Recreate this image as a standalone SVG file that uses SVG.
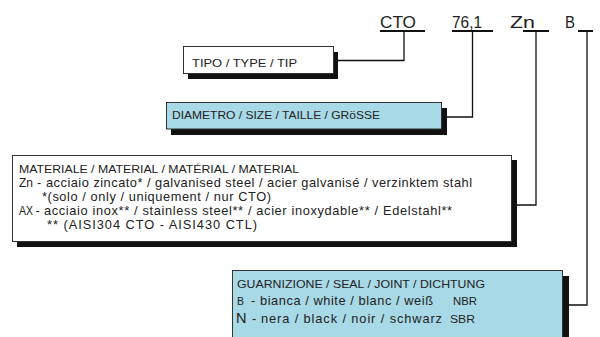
<svg xmlns="http://www.w3.org/2000/svg" width="600" height="337" viewBox="0 0 600 337">
<style>
.box{stroke:#333;stroke-width:1}
.w{fill:#fff}
.b{fill:#a8d9e7}
.sh{fill:#111}
.ln{fill:none;stroke:#111;stroke-width:1.3}
.ul{fill:none;stroke:#111;stroke-width:2}
.h{font-family:"Liberation Sans",Arial,sans-serif;font-size:10.5px;fill:#222}
.t{font-family:"Liberation Sans",Arial,sans-serif;font-size:12.8px;fill:#222}
.code{font-family:"Liberation Sans",Arial,sans-serif;font-size:17px;fill:#222}
</style>
<rect width="600" height="337" fill="#fff"/>
<g id="code">
<text class="code" x="380" y="28" textLength="36" lengthAdjust="spacingAndGlyphs">CTO</text>
<text class="code" x="452" y="28" textLength="30" lengthAdjust="spacingAndGlyphs">76,1</text>
<text class="code" x="510" y="28" textLength="25" lengthAdjust="spacingAndGlyphs">Zn</text>
<text class="code" x="565" y="28" textLength="10" lengthAdjust="spacingAndGlyphs">B</text>
</g>
<g id="connectors">
<path class="ul" d="M380 31H425M452 31H493M523 31H549M578 31H593"/>
<path class="ln" d="M404 31V60.5H338"/>
<path class="ln" d="M472.5 31V117H447"/>
<path class="ln" d="M536 31V205H517"/>
<path class="ln" d="M587 31V305H569"/>
</g>
<g id="tipo">
<rect class="sh" x="188" y="52" width="150" height="27"/>
<rect class="box w" x="183.5" y="46.5" width="150" height="27"/>
<text class="h" x="192" y="67" textLength="105" lengthAdjust="spacingAndGlyphs">TIPO / TYPE / TIP</text>
</g>
<g id="diametro">
<rect class="sh" x="171" y="108" width="276" height="27"/>
<rect class="box b" x="166.5" y="102.5" width="275" height="26.5"/>
<text class="h" x="172" y="119" textLength="208" lengthAdjust="spacingAndGlyphs">DIAMETRO / SIZE / TAILLE / GRöSSE</text>
</g>
<g id="materiale">
<rect class="sh" x="17" y="160" width="500" height="87"/>
<rect class="box w" x="12.5" y="155.5" width="499" height="86"/>
<text class="h" x="19" y="173" textLength="280" lengthAdjust="spacingAndGlyphs">MATERIALE / MATERIAL / MATÉRIAL / MATERIAL</text>
<text class="t" x="19" y="187" style="font-size:12px" textLength="14" lengthAdjust="spacingAndGlyphs">Zn</text>
<text class="t" x="37" y="187">-</text>
<text class="t" x="46" y="187" textLength="426">acciaio zincato* / galvanised steel / acier galvanisé / verzinktem stahl</text>
<text class="t" x="42" y="201" textLength="229">*(solo / only / uniquement / nur CTO)</text>
<text class="t" x="19" y="215" textLength="14" lengthAdjust="spacingAndGlyphs">AX</text>
<text class="t" x="35.5" y="215">-</text>
<text class="t" x="44" y="215" textLength="408">acciaio inox**  / stainless steel** / acier inoxydable** / Edelstahl**</text>
<text class="t" x="47" y="229" textLength="210">** (AISI304 CTO - AISI430 CTL)</text>
</g>
<g id="guarnizione">
<rect class="sh" x="238" y="276" width="331" height="70"/>
<rect class="box b" x="232.5" y="270.5" width="330" height="70"/>
<text class="h" x="237" y="288" textLength="248" lengthAdjust="spacingAndGlyphs">GUARNIZIONE / SEAL / JOINT / DICHTUNG</text>
<text class="h" x="237" y="305">B</text>
<text class="t" x="251" y="305">-</text>
<text class="t" x="260" y="305" textLength="173">bianca / white / blanc / weiß</text>
<text class="h" x="453" y="305" textLength="24" lengthAdjust="spacingAndGlyphs">NBR</text>
<text class="t" x="236" y="323" style="font-size:14.5px">N</text>
<text class="t" x="252" y="323">-</text>
<text class="t" x="261" y="323" textLength="181">nera / black / noir / schwarz</text>
<text class="h" x="450" y="323" textLength="25" lengthAdjust="spacingAndGlyphs">SBR</text>
</g>
</svg>
